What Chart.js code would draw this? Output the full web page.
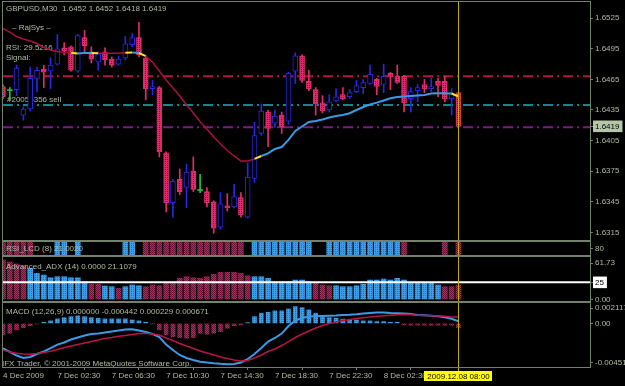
<!DOCTYPE html>
<html>
<head>
<meta charset="utf-8">
<title>GBPUSD,M30</title>
<script src="https://cdn.jsdelivr.net/npm/chart.js@4.4.1/dist/chart.umd.min.js"></script>
<style>
  html, body { margin: 0; padding: 0; background: #000; }
  #tela { position: relative; width: 625px; height: 386px; background: #000; overflow: hidden; }
  #tela canvas { position: absolute; left: 0; top: 0; }
</style>
</head>
<body>
<div id="tela">
  <canvas id="grafPreco" width="625" height="386"></canvas>
  <canvas id="grafRsi" width="625" height="386"></canvas>
  <canvas id="grafAdx" width="625" height="386"></canvas>
  <canvas id="grafMacd" width="625" height="386"></canvas>
</div>
<script>
// ==========================================
// GBPUSD M30 - candles + RajSys, RSI_LCD, ADX, MACD
// ==========================================

// Candles (30 min bars, 4 Dec 23:00 -> 8 Dec 08:00)
const openP = [1.6458,1.6454,1.6455,1.6430,1.6436,1.6466,1.6475,1.6473,1.6480,1.6496,
  1.6497,1.6473,1.6506,1.6492,1.6482,1.6492,1.6485,1.6480,1.6486,1.6499,
  1.6506,1.6486,1.6456,1.6457,1.6393,1.6344,1.6367,1.6359,1.6375,1.6356,
  1.6355,1.6345,1.6320,1.6341,1.6340,1.6349,1.6330,1.6368,1.6412,1.6433,
  1.6422,1.6430,1.6424,1.6473,1.6488,1.6463,1.6455,1.6442,1.6435,1.6444,
  1.6450,1.6448,1.6453,1.6457,1.6461,1.6465,1.6460,1.6471,1.6468,1.6468,
  1.6446,1.6454,1.6460,1.6456,1.6463,1.6463,1.6446,1.6452];
const highP = [1.6460,1.6457,1.6479,1.6438,1.6477,1.6477,1.6479,1.6486,1.6509,1.6501,
  1.6498,1.6509,1.6513,1.6497,1.6492,1.6496,1.6487,1.6488,1.6507,1.6510,
  1.6521,1.6488,1.6464,1.6458,1.6394,1.6367,1.6377,1.6382,1.6389,1.6372,
  1.6359,1.6346,1.6354,1.6353,1.6362,1.6354,1.6383,1.6423,1.6441,1.6435,
  1.6435,1.6433,1.6472,1.6491,1.6489,1.6474,1.6457,1.6449,1.6450,1.6456,
  1.6457,1.6455,1.6464,1.6465,1.6479,1.6466,1.6480,1.6472,1.6479,1.6469,
  1.6457,1.6460,1.6465,1.6466,1.6466,1.6468,1.6456,1.6452];
const lowP = [1.6446,1.6445,1.6449,1.6425,1.6434,1.6453,1.6457,1.6456,1.6479,1.6489,
  1.6473,1.6472,1.6492,1.6481,1.6474,1.6479,1.6477,1.6479,1.6484,1.6497,
  1.6487,1.6445,1.6450,1.6389,1.6335,1.6330,1.6352,1.6339,1.6355,1.6354,
  1.6340,1.6314,1.6318,1.6336,1.6339,1.6330,1.6329,1.6364,1.6410,1.6399,
  1.6418,1.6412,1.6421,1.6461,1.6462,1.6454,1.6430,1.6432,1.6433,1.6443,
  1.6445,1.6446,1.6452,1.6451,1.6460,1.6450,1.6452,1.6455,1.6461,1.6433,
  1.6433,1.6443,1.6452,1.6453,1.6448,1.6443,1.6430,1.6418];
const closeP = [1.6448,1.6454,1.6476,1.6436,1.6466,1.6474,1.6472,1.6479,1.6495,1.6493,
  1.6474,1.6508,1.6498,1.6485,1.6490,1.6484,1.6479,1.6485,1.6500,1.6506,
  1.6489,1.6456,1.6458,1.6394,1.6344,1.6365,1.6355,1.6374,1.6357,1.6356,
  1.6344,1.6319,1.6343,1.6339,1.6350,1.6332,1.6369,1.6410,1.6434,1.6417,
  1.6429,1.6418,1.6471,1.6488,1.6464,1.6456,1.6441,1.6434,1.6443,1.6448,
  1.6446,1.6452,1.6459,1.6462,1.6470,1.6458,1.6468,1.6468,1.6462,1.6442,
  1.6453,1.6457,1.6456,1.6458,1.6459,1.6446,1.6451,1.6419];

// RajSys line and its colour per segment (r = down, y = turn, b = up)
const rajSys = [1.65149,1.65114,1.65070,1.65046,1.65026,1.65002,1.64963,1.64938,1.64923,1.64914,
  1.64912,1.64904,1.64909,1.64909,1.64906,1.64906,1.64906,1.64906,1.64911,1.64914,
  1.64909,1.64879,1.64820,1.64732,1.64644,1.64566,1.64487,1.64399,1.64321,1.64235,
  1.64164,1.64085,1.64017,1.63953,1.63899,1.63850,1.63850,1.63870,1.63899,1.63924,
  1.63968,1.63987,1.64056,1.64144,1.64188,1.64232,1.64242,1.64257,1.64277,1.64291,
  1.64301,1.64318,1.64350,1.64379,1.64404,1.64422,1.64443,1.64465,1.64477,1.64482,
  1.64487,1.64492,1.64497,1.64512,1.64514,1.64514,1.64512,1.64482];
const rajTrend = ("rrrrrrrrrr" + "y" + "bb" + "y" + "rrrr" + "y" + "b" + "y" +
  "rrrrrrrrrrrrrrrr" + "y" + "bbbbbbbbbbbbbbbbbbbbbbbbbbbb" + "yy").split("");

// Horizontal levels on the price window
const levelRed = 1.6468;
const levelTeal = 1.6440;
const levelPurple = 1.6418;

// Price axis
const priceMin = 1.63075;
const priceMax = 1.65409;
const priceTicks = [1.6315, 1.6345, 1.6375, 1.6405, 1.6435, 1.6465, 1.6495, 1.6525];

// RSI_LCD: 1 = up (blue), -1 = down (red), 0 = nothing
const rsiLcd = [-1,-1,-1,-1,-1, 0,0,0, 1,1, 0, 1, 0,0,0,0,0,0, 1,1, 0,
  -1,-1,-1,-1,-1,-1,-1,-1,-1,-1,-1,-1,-1,-1,-1, 0,
  1,1,1,1,1,1,1,1,1, 0,0, 1,1,1,1,1,1,1,1,1,1,1, -1, 0,0,0,0,0, -1, 0, -1];

// Advanced_ADX histogram
const adxVal = [57.4,54.5,51.6,48.7,45.4,38.1,35.6,31.7,33.2,33.2,
  31.7,31.7,25.9,22.2,22.2,19.7,18.7,16.4,18.7,21.2,
  20.1,18.7,21.2,20.1,23.6,25.9,30.9,33.2,31.7,30.9,
  33.2,36.7,39.6,39.6,39.6,38.1,34.6,33.2,33.2,30.9,
  25.9,25.9,25.9,28.4,28.4,25.9,23.6,21.2,20.1,20.1,
  18.7,18.7,20.1,22.2,28.4,28.4,29.8,28.4,30.9,28.4,
  24.5,23.6,23.6,23.6,21.2,18.7,18.7,21.1];
const adxDir = [-1,-1,-1,-1, 1,1,1,1,1,1,1,1,1, -1,-1, 1,1, -1, 1,1,1,
  -1,-1,-1,-1,-1,-1,-1,-1,-1,-1,-1,-1,-1,-1,-1,-1,
  1,1,1,1,1,1,1,1,1, -1,-1,-1,
  1,1,1,1,1,1,1,1,1,1,1,1,1,1,1,1, -1,-1,-1];
const adxMin = -2.0395;
const adxMax = 61.73;
const adxLevel = 25;

// MACD (12,26,9)
const macdHist = [-0.00119,-0.00102,-0.00067,-0.00044,-0.00023,-0.00005,0.00012,0.00026,0.00047,0.00060,
  0.00070,0.00078,0.00070,0.00060,0.00054,0.00047,0.00047,0.00047,0.00047,0.00036,
  0.00026,0.00012,-0.00003,-0.00067,-0.00119,-0.00137,-0.00147,-0.00153,-0.00147,-0.00102,
  -0.00112,-0.00102,-0.00085,-0.00050,-0.00023,-0.00016,0.00008,0.00070,0.00106,0.00116,
  0.00130,0.00130,0.00150,0.00174,0.00164,0.00140,0.00106,0.00078,0.00060,0.00054,
  0.00044,0.00036,0.00036,0.00026,0.00026,0.00019,0.00019,0.00012,0.00012,-0.00016,
  -0.00018,-0.00018,-0.00018,-0.00018,-0.00018,-0.00018,-0.00018,-0.00044];
const macdMain = [-0.00258,-0.00296,-0.00333,-0.00358,-0.00348,-0.00317,-0.00291,-0.00255,-0.00219,-0.00198,
  -0.00167,-0.00146,-0.00125,-0.00110,-0.00105,-0.00094,-0.00084,-0.00074,-0.00063,-0.00061,
  -0.00074,-0.00089,-0.00110,-0.00141,-0.00219,-0.00276,-0.00327,-0.00358,-0.00379,-0.00397,
  -0.00405,-0.00413,-0.00419,-0.00423,-0.00421,-0.00405,-0.00369,-0.00317,-0.00255,-0.00188,
  -0.00151,-0.00105,-0.00027,0.00030,0.00056,0.00071,0.00074,0.00077,0.00079,0.00082,
  0.00087,0.00090,0.00095,0.00103,0.00108,0.00113,0.00113,0.00108,0.00105,0.00103,
  0.00097,0.00087,0.00084,0.00080,0.00075,0.00063,0.00048,0.00023];
const macdSignal = [-0.00276,-0.00296,-0.00310,-0.00317,-0.00320,-0.00312,-0.00301,-0.00289,-0.00270,-0.00250,
  -0.00234,-0.00219,-0.00203,-0.00188,-0.00172,-0.00156,-0.00146,-0.00134,-0.00125,-0.00115,
  -0.00105,-0.00105,-0.00110,-0.00120,-0.00151,-0.00177,-0.00208,-0.00234,-0.00260,-0.00286,
  -0.00307,-0.00327,-0.00348,-0.00364,-0.00379,-0.00390,-0.00384,-0.00358,-0.00327,-0.00291,
  -0.00265,-0.00229,-0.00188,-0.00146,-0.00110,-0.00079,-0.00048,-0.00022,-0.00001,0.00015,
  0.00030,0.00040,0.00051,0.00058,0.00066,0.00074,0.00080,0.00085,0.00089,0.00092,
  0.00089,0.00084,0.00081,0.00079,0.00077,0.00074,0.00066,0.00067];
const macdMin = -0.004515;
const macdMax = 0.002117;

// Time axis
const timeTickIdx = [0, 8, 16, 24, 32, 40, 48, 56];
const timeLabels = ["4 Dec 2009", "7 Dec 02:30", "7 Dec 06:30", "7 Dec 10:30",
  "7 Dec 14:30", "7 Dec 18:30", "7 Dec 22:30", "8 Dec 02:30"];
const cursorLabel = "2009.12.08 08:00";

// ------------------------------------------
const N = openP.length;
const lastIdx = N - 1;
const xMax = 86.36;  // empty space right of the last bar (chart shift)
const idx = openP.map((_, i) => i);

const FONT = "8px 'Liberation Sans', Arial, sans-serif";
const TEXT = "#b0bca4";
const FRAME = "#72826b";
const BULL = "#2828e0";
const BEAR = "#e02c6c";
const DOJI = "#22c040";
const CURSOR = "#bfae00";
const MA_COR = { r: "#a8103e", y: "#f4e41c", b: "#3a9ae4" };

Chart.defaults.font.family = "'Liberation Sans', Arial, sans-serif";
Chart.defaults.font.size = 8;
Chart.defaults.color = TEXT;
Chart.defaults.animation = false;
Chart.defaults.events = [];
Chart.defaults.plugins.legend.display = false;
Chart.defaults.plugins.tooltip.enabled = false;

// dotted fills like the MT4 bars
function dotFill(canvasId, base, dot, checker) {
    const t = document.createElement("canvas");
    t.width = 2; t.height = 2;
    const g = t.getContext("2d");
    g.fillStyle = base; g.fillRect(0, 0, 2, 2);
    g.fillStyle = dot; g.fillRect(1, 1, 1, 1);
    if (checker) g.fillRect(0, 0, 1, 1);
    return document.getElementById(canvasId).getContext("2d").createPattern(t, "repeat");
}

function xAxis() {
    return { type: "linear", min: 0, max: xMax, offset: false, display: false };
}

function rightAxis(min, max, marks) {
    return {
        type: "linear", position: "right", min, max,
        afterFit: s => { s.width = 35; s.paddingTop = 0; s.paddingBottom = 0; },
        afterBuildTicks: s => { s.ticks = marks.map(m => ({ value: m.value })); },
        ticks: {
            autoSkip: false, padding: 2,
            callback: (v, i) => marks[i].text,
            color: c => marks[c.index] && marks[c.index].box ? "#000" : TEXT,
            showLabelBackdrop: c => !!(marks[c.index] && marks[c.index].box),
            backdropColor: c => (marks[c.index] && marks[c.index].box) || "rgba(0,0,0,0)",
            backdropPadding: { top: 1, bottom: 1, left: 2, right: 3 }
        },
        grid: { drawOnChartArea: false, drawTicks: true, tickLength: 3, color: FRAME },
        border: { display: false }
    };
}

const moldura = {
    id: "moldura",
    afterDraw(chart) {
        const { ctx, chartArea: a } = chart;
        ctx.save();
        ctx.strokeStyle = FRAME;
        ctx.lineWidth = 1;
        ctx.strokeRect(a.left - 0.5, a.top - 0.5, a.right - a.left + 1, a.bottom - a.top + 1);
        ctx.restore();
    }
};

function cursor(comData) {
    return {
        id: "cursor",
        afterDatasetsDraw(chart) {
            const { ctx, chartArea: a, scales } = chart;
            const px = Math.round(scales.x.getPixelForValue(lastIdx)) + 0.5;
            ctx.save();
            ctx.strokeStyle = CURSOR;
            ctx.lineWidth = 1;
            ctx.beginPath();
            ctx.moveTo(px, a.top - 1);
            ctx.lineTo(px, a.bottom + (comData ? 4 : 1));
            ctx.stroke();
            ctx.restore();
        },
        afterDraw(chart) {
            if (!comData) return;
            const { ctx, chartArea: a, scales } = chart;
            const px = Math.round(scales.x.getPixelForValue(lastIdx)) + 0.5;
            ctx.save();
            ctx.font = FONT;
            const w = ctx.measureText(cursorLabel).width + 6;
            ctx.fillStyle = "#ffff00";
            ctx.fillRect(Math.round(px - w / 2), a.bottom + 4, Math.round(w), 10);
            ctx.fillStyle = "#000";
            ctx.textAlign = "center";
            ctx.textBaseline = "middle";
            ctx.fillText(cursorLabel, px, a.bottom + 9.5);
            ctx.restore();
        }
    };
}

function textos(id, hook, itens) {
    return {
        id,
        [hook](chart) {
            const ctx = chart.ctx;
            ctx.save();
            ctx.font = FONT;
            ctx.textBaseline = "middle";
            itens.forEach(t => {
                ctx.fillStyle = t.cor || TEXT;
                ctx.fillText(t.texto, t.x, t.y);
            });
            ctx.restore();
        }
    };
}

// ================= price window =================
const bearFill = dotFill("grafPreco", "#e02c6c", "#7c1040", false);
const corVela = i => closeP[i] > openP[i] ? BULL : closeP[i] < openP[i] ? BEAR : DOJI;
const nivel = (y, cor) => ({
    type: "line", order: 3,
    data: [{ x: 0, y }, { x: xMax, y }],
    borderColor: cor, borderWidth: 2, borderDash: [10, 4, 2, 4],
    pointRadius: 0
});

const marcasPreco = priceTicks.map(v => ({ value: v, text: v.toFixed(4) }));
marcasPreco.push({ value: closeP[lastIdx], text: closeP[lastIdx].toFixed(4), box: "#b4c8a8" });

new Chart(document.getElementById("grafPreco"), {
    type: "bar",
    data: {
        datasets: [
            {
                type: "line", order: 0,
                data: rajSys.map((v, i) => ({ x: i, y: v })),
                borderWidth: 2, pointRadius: 0, tension: 0,
                borderColor: MA_COR.r,
                segment: {
                    borderColor: c => MA_COR[rajTrend[c.p0DataIndex]],
                    borderWidth: c => rajTrend[c.p0DataIndex] === "r" ? 1.5 : 2
                }
            },
            {
                order: 1, grouped: false, barThickness: 5, minBarLength: 1, borderSkipped: false,
                data: idx.map(i => ({ x: i, y: [openP[i], closeP[i]] })),
                backgroundColor: idx.map(i => closeP[i] > openP[i] ? "#000" : closeP[i] < openP[i] ? bearFill : DOJI),
                borderColor: idx.map(i => corVela(i)),
                borderWidth: idx.map(i => closeP[i] === openP[i] ? 0 : 1)
            },
            {
                order: 2, grouped: false, barThickness: 1, borderWidth: 0,
                data: idx.map(i => ({ x: i, y: [lowP[i], highP[i]] })),
                backgroundColor: idx.map(i => corVela(i))
            },
            nivel(levelRed, "#b41444"),
            nivel(levelTeal, "#17858a"),
            nivel(levelPurple, "#7e1a82")
        ]
    },
    options: {
        responsive: false, devicePixelRatio: 1,
        layout: { padding: { left: 3, right: 0, top: 2, bottom: 146 } },
        scales: { x: xAxis(), y: rightAxis(priceMin, priceMax, marcasPreco) }
    },
    plugins: [
        textos("rotulosFundo", "beforeDatasetsDraw", [
            { texto: "– RajSys –", x: 12, y: 27.5 },
            { texto: "RSI: 29.5216", x: 6, y: 48 },
            { texto: "Signal:", x: 6, y: 58 },
            { texto: "#20055356 sell", x: 7, y: 100 }
        ]),
        textos("cabecalho", "afterDraw", [
            { texto: "GBPUSD,M30  1.6452 1.6452 1.6418 1.6419", x: 6, y: 8.5 }
        ]),
        cursor(false), moldura
    ]
});

// ================= RSI_LCD =================
const azulR = dotFill("grafRsi", "#3c9ee8", "#2a70b8", false);
const vermR = dotFill("grafRsi", "#c8205a", "#6c0c38", true);
const rsiIdx = idx.filter(i => rsiLcd[i] !== 0);

new Chart(document.getElementById("grafRsi"), {
    type: "bar",
    data: {
        datasets: [{
            grouped: false, barThickness: 5, borderWidth: 0, base: 60,
            data: rsiIdx.map(i => ({ x: i, y: 100 })),
            backgroundColor: rsiIdx.map(i => rsiLcd[i] > 0 ? azulR : vermR)
        }]
    },
    options: {
        responsive: false, devicePixelRatio: 1,
        layout: { padding: { left: 3, right: 0, top: 242, bottom: 131 } },
        scales: { x: xAxis(), y: rightAxis(60, 100, [{ value: 80, text: "80" }]) }
    },
    plugins: [
        textos("rotuloRsi", "afterDatasetsDraw", [{ texto: "RSI_LCD (8) 21.0020", x: 6, y: 249 }]),
        cursor(false), moldura
    ]
});

// ================= Advanced_ADX =================
const azulA = dotFill("grafAdx", "#3c9ee8", "#2a70b8", false);
const vermA = dotFill("grafAdx", "#c8205a", "#6c0c38", true);
const adxSpan = adxMax - adxMin;

new Chart(document.getElementById("grafAdx"), {
    type: "bar",
    data: {
        datasets: [
            {
                type: "line", order: 0,
                data: [{ x: 0, y: adxLevel }, { x: xMax, y: adxLevel }],
                borderColor: "#ffffff", borderWidth: 2, pointRadius: 0
            },
            {
                order: 1, grouped: false, barThickness: 5, borderWidth: 0,
                data: idx.map(i => ({ x: i, y: adxVal[i] })),
                backgroundColor: idx.map(i => adxDir[i] > 0 ? azulA : vermA)
            }
        ]
    },
    options: {
        responsive: false, devicePixelRatio: 1,
        layout: { padding: { left: 3, right: 0, top: 257, bottom: 85 } },
        scales: {
            x: xAxis(),
            y: rightAxis(adxMin, adxMax, [
                { value: adxMax - 6 * adxSpan / 44, text: adxMax.toFixed(2) },
                { value: adxLevel, text: String(adxLevel), box: "#ffffff" },
                { value: 0, text: "0.00" }
            ])
        }
    },
    plugins: [
        textos("rotuloAdx", "afterDatasetsDraw", [{ texto: "Advanced_ADX (14) 0.0000 21.1079", x: 6, y: 266.5 }]),
        cursor(false), moldura
    ]
});

// ================= MACD =================
const azulM = dotFill("grafMacd", "#3c9ee8", "#2a70b8", false);
const vermM = dotFill("grafMacd", "#c8205a", "#6c0c38", true);
const macdSpan = macdMax - macdMin;

new Chart(document.getElementById("grafMacd"), {
    type: "bar",
    data: {
        datasets: [
            {
                type: "line", order: 0,
                data: macdSignal.map((v, i) => ({ x: i, y: v })),
                borderColor: "#b8144a", borderWidth: 1.5, pointRadius: 0
            },
            {
                type: "line", order: 1,
                data: macdMain.map((v, i) => ({ x: i, y: v })),
                borderColor: "#3a9ae4", borderWidth: 2, pointRadius: 0
            },
            {
                order: 2, grouped: false, barThickness: 4, borderWidth: 0,
                data: idx.map(i => ({ x: i, y: macdHist[i] })),
                backgroundColor: idx.map(i => macdHist[i] >= 0 ? azulM : vermM)
            }
        ]
    },
    options: {
        responsive: false, devicePixelRatio: 1,
        layout: { padding: { left: 3, right: 0, top: 303, bottom: 0 } },
        scales: {
            x: {
                type: "linear", min: 0, max: xMax, offset: false, position: "bottom",
                afterFit: s => { s.height = 19; s.paddingLeft = 0; s.paddingRight = 0; },
                afterBuildTicks: s => { s.ticks = timeTickIdx.map(v => ({ value: v })); },
                ticks: { autoSkip: false, maxRotation: 0, align: "start", padding: 1,
                         callback: (v, i) => timeLabels[i] },
                grid: { drawOnChartArea: false, drawTicks: true, tickLength: 3, color: FRAME },
                border: { display: false }
            },
            y: rightAxis(macdMin, macdMax, [
                { value: macdMax - 5 * macdSpan / 64, text: macdMax.toFixed(6) },
                { value: 0, text: "0.00" },
                { value: macdMin + 4.5 * macdSpan / 64, text: macdMin.toFixed(6) }
            ])
        }
    },
    plugins: [
        textos("rotuloMacd", "afterDatasetsDraw", [
            { texto: "MACD (12,26,9) 0.000000 -0.000442 0.000229 0.000671", x: 6, y: 311.5 },
            { texto: "IFX Trader, © 2001-2009 MetaQuotes Software Corp.", x: 2, y: 363.5 }
        ]),
        cursor(true), moldura
    ]
});
</script>
</body>
</html>
